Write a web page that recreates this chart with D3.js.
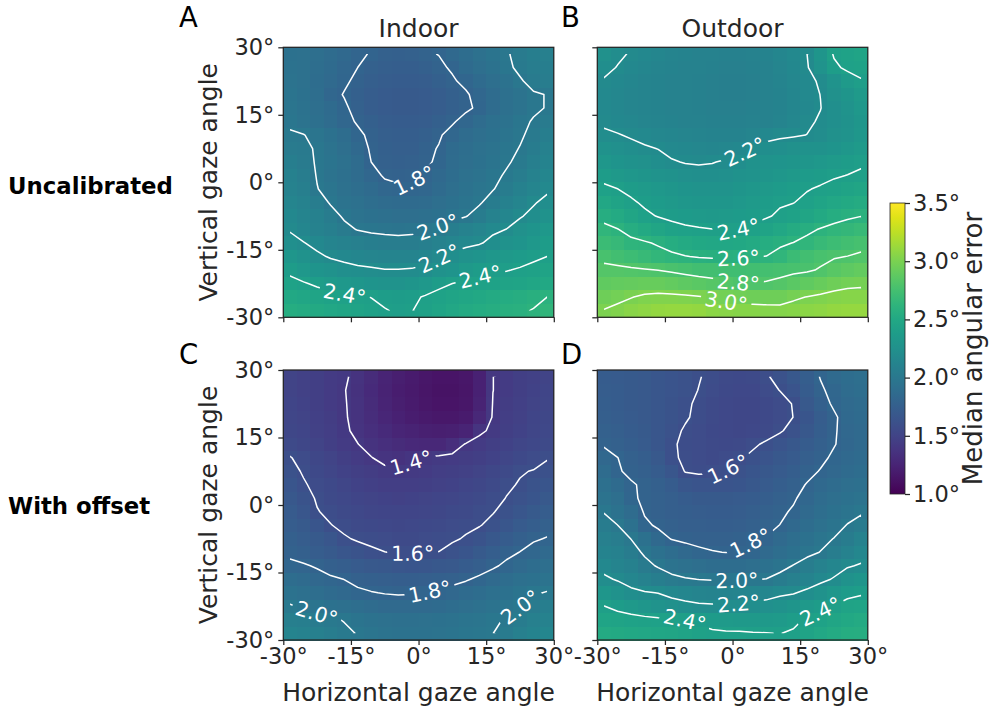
<!DOCTYPE html>
<html>
<head>
<meta charset="utf-8">
<script src="https://cdn.jsdelivr.net/npm/d3@7"></script>
<style>
  body { margin: 0; background: #fff; }
  text { font-family: "DejaVu Sans", sans-serif; }
</style>
</head>
<body>
<svg id="fig" width="992" height="707"></svg>
<script>
// cell centres of the 20 x 20 gaze grid (degrees)
const hAngles = [-28.5,-25.5,-22.5,-19.5,-16.5,-13.5,-10.5,-7.5,-4.5,-1.5,1.5,4.5,7.5,10.5,13.5,16.5,19.5,22.5,25.5,28.5];
const vAngles = [28.5,25.5,22.5,19.5,16.5,13.5,10.5,7.5,4.5,1.5,-1.5,-4.5,-7.5,-10.5,-13.5,-16.5,-19.5,-22.5,-25.5,-28.5];
const tickAngles = [-30, -15, 0, 15, 30];
const cbarTicks = [1.0, 1.5, 2.0, 2.5, 3.0, 3.5];

// median angular error per cell, rows from top (+30) to bottom (-30)
const indoorUncal = [
  [1.93,1.92,1.90,1.87,1.84,1.81,1.796,1.77,1.76,1.77,1.79,1.802,1.84,1.88,1.92,1.96,1.99,2.03,2.06,2.08],
  [1.94,1.92,1.89,1.86,1.83,1.80,1.77,1.75,1.74,1.74,1.76,1.785,1.81,1.86,1.90,1.94,1.98,2.02,2.05,2.06],
  [1.95,1.92,1.88,1.85,1.815,1.78,1.75,1.73,1.72,1.72,1.73,1.76,1.79,1.82,1.86,1.90,1.94,1.99,2.03,2.05],
  [1.96,1.93,1.89,1.83,1.795,1.76,1.73,1.71,1.70,1.70,1.71,1.73,1.76,1.79,1.83,1.87,1.91,1.95,1.99,2.003],
  [1.97,1.94,1.90,1.86,1.815,1.77,1.73,1.71,1.70,1.70,1.71,1.73,1.76,1.785,1.815,1.87,1.91,1.95,1.99,2.003],
  [1.985,1.95,1.91,1.87,1.83,1.79,1.76,1.73,1.72,1.72,1.73,1.76,1.79,1.83,1.87,1.91,1.94,1.985,2.005,2.03],
  [2.01,2.003,1.975,1.93,1.88,1.82,1.78,1.75,1.74,1.74,1.76,1.79,1.83,1.87,1.90,1.93,1.96,1.99,2.02,2.06],
  [2.035,2.02,1.99,1.95,1.90,1.84,1.79,1.76,1.75,1.75,1.78,1.805,1.86,1.89,1.92,1.95,1.98,2.003,2.04,2.09],
  [2.06,2.035,1.99,1.96,1.92,1.87,1.80,1.77,1.76,1.765,1.785,1.815,1.87,1.90,1.93,1.96,1.99,2.02,2.07,2.12],
  [2.09,2.05,1.995,1.95,1.91,1.87,1.83,1.79,1.78,1.785,1.81,1.84,1.88,1.92,1.95,1.98,2.01,2.05,2.10,2.15],
  [2.11,2.07,2.003,1.97,1.92,1.89,1.86,1.83,1.815,1.815,1.83,1.86,1.90,1.94,1.97,1.995,2.04,2.09,2.14,2.18],
  [2.14,2.10,2.05,1.99,1.95,1.92,1.89,1.87,1.86,1.86,1.87,1.90,1.93,1.96,1.99,2.04,2.09,2.14,2.19,2.23],
  [2.165,2.13,2.09,2.04,1.985,1.95,1.93,1.91,1.90,1.90,1.91,1.93,1.965,1.995,2.04,2.10,2.15,2.19,2.23,2.27],
  [2.19,2.15,2.11,2.07,2.03,1.995,1.98,1.97,1.965,1.97,1.99,2.02,2.06,2.10,2.14,2.18,2.202,2.25,2.29,2.33],
  [2.24,2.205,2.17,2.13,2.10,2.08,2.06,2.05,2.045,2.05,2.07,2.10,2.14,2.17,2.19,2.23,2.26,2.29,2.33,2.37],
  [2.31,2.26,2.22,2.19,2.17,2.15,2.14,2.13,2.125,2.13,2.15,2.19,2.23,2.26,2.29,2.32,2.34,2.36,2.38,2.40],
  [2.37,2.33,2.29,2.26,2.24,2.225,2.215,2.205,2.205,2.21,2.23,2.26,2.29,2.34,2.37,2.385,2.395,2.41,2.43,2.45],
  [2.44,2.41,2.38,2.35,2.33,2.31,2.29,2.28,2.28,2.30,2.33,2.37,2.40,2.42,2.43,2.44,2.45,2.46,2.48,2.50],
  [2.50,2.48,2.46,2.44,2.42,2.41,2.398,2.38,2.37,2.38,2.41,2.44,2.46,2.48,2.50,2.52,2.54,2.56,2.58,2.60],
  [2.55,2.53,2.51,2.49,2.47,2.45,2.43,2.405,2.39,2.397,2.43,2.46,2.49,2.52,2.54,2.56,2.58,2.59,2.604,2.64]
];
const outdoorUncal = [
  [2.25,2.22,2.19,2.17,2.15,2.13,2.12,2.11,2.10,2.09,2.09,2.10,2.12,2.15,2.18,2.199,2.30,2.41,2.44,2.46],
  [2.23,2.195,2.17,2.15,2.13,2.12,2.11,2.10,2.09,2.08,2.08,2.09,2.11,2.14,2.17,2.19,2.28,2.38,2.42,2.44],
  [2.19,2.17,2.15,2.13,2.12,2.11,2.10,2.09,2.08,2.07,2.07,2.08,2.10,2.13,2.16,2.18,2.21,2.28,2.35,2.39],
  [2.18,2.16,2.14,2.125,2.115,2.105,2.095,2.085,2.075,2.07,2.07,2.08,2.10,2.12,2.15,2.175,2.201,2.25,2.30,2.35],
  [2.175,2.16,2.14,2.125,2.115,2.105,2.095,2.085,2.08,2.075,2.075,2.085,2.10,2.12,2.145,2.17,2.198,2.24,2.28,2.33],
  [2.185,2.17,2.155,2.14,2.13,2.12,2.11,2.10,2.09,2.085,2.085,2.095,2.11,2.13,2.155,2.185,2.21,2.24,2.27,2.31],
  [2.215,2.205,2.19,2.175,2.16,2.15,2.14,2.13,2.12,2.115,2.12,2.14,2.17,2.185,2.192,2.201,2.22,2.25,2.28,2.32],
  [2.27,2.245,2.225,2.21,2.198,2.175,2.165,2.155,2.15,2.155,2.17,2.21,2.23,2.24,2.25,2.26,2.27,2.29,2.32,2.35],
  [2.32,2.295,2.27,2.25,2.23,2.208,2.195,2.19,2.196,2.21,2.23,2.26,2.28,2.29,2.30,2.31,2.33,2.35,2.37,2.39],
  [2.37,2.345,2.32,2.30,2.28,2.26,2.245,2.235,2.235,2.245,2.26,2.28,2.30,2.32,2.34,2.36,2.375,2.39,2.402,2.41],
  [2.42,2.401,2.375,2.35,2.33,2.31,2.295,2.285,2.28,2.285,2.30,2.32,2.34,2.36,2.38,2.395,2.41,2.43,2.45,2.47],
  [2.49,2.455,2.415,2.385,2.36,2.34,2.325,2.315,2.31,2.315,2.33,2.35,2.37,2.39,2.398,2.42,2.46,2.49,2.51,2.53],
  [2.56,2.52,2.47,2.42,2.395,2.375,2.36,2.35,2.345,2.35,2.36,2.375,2.39,2.415,2.44,2.47,2.51,2.55,2.58,2.598],
  [2.635,2.605,2.56,2.51,2.47,2.44,2.42,2.41,2.402,2.398,2.401,2.42,2.45,2.49,2.53,2.57,2.61,2.64,2.66,2.68],
  [2.70,2.67,2.63,2.615,2.585,2.55,2.52,2.50,2.49,2.49,2.50,2.52,2.55,2.58,2.603,2.64,2.68,2.71,2.74,2.76],
  [2.77,2.74,2.71,2.68,2.65,2.625,2.605,2.59,2.58,2.58,2.585,2.595,2.602,2.64,2.70,2.74,2.77,2.79,2.802,2.82],
  [2.83,2.83,2.82,2.81,2.798,2.78,2.76,2.745,2.74,2.735,2.735,2.74,2.75,2.76,2.775,2.785,2.81,2.85,2.88,2.90],
  [2.89,2.90,2.91,2.92,2.92,2.90,2.88,2.86,2.84,2.82,2.805,2.802,2.81,2.83,2.86,2.89,2.92,2.95,2.97,2.98],
  [2.95,2.97,2.995,3.02,3.03,3.03,3.02,3.008,2.99,2.97,2.955,2.95,2.945,2.95,2.98,3.003,3.02,3.04,3.05,3.05],
  [3.005,3.03,3.06,3.08,3.09,3.10,3.10,3.09,3.07,3.06,3.05,3.045,3.04,3.035,3.05,3.07,3.08,3.09,3.10,3.10]
];
const indoorOffset = [
  [1.50,1.48,1.46,1.43,1.415,1.37,1.31,1.25,1.21,1.18,1.15,1.13,1.13,1.15,1.23,1.399,1.43,1.46,1.48,1.50],
  [1.50,1.48,1.46,1.43,1.405,1.36,1.30,1.24,1.20,1.17,1.14,1.12,1.12,1.14,1.23,1.399,1.43,1.46,1.49,1.51],
  [1.51,1.49,1.46,1.43,1.408,1.365,1.31,1.25,1.21,1.18,1.15,1.13,1.13,1.15,1.24,1.405,1.44,1.47,1.50,1.52],
  [1.52,1.50,1.47,1.44,1.41,1.37,1.32,1.27,1.23,1.20,1.175,1.16,1.16,1.18,1.28,1.41,1.45,1.48,1.51,1.53],
  [1.53,1.51,1.48,1.45,1.415,1.38,1.34,1.30,1.26,1.235,1.22,1.21,1.22,1.25,1.38,1.42,1.46,1.49,1.52,1.54],
  [1.56,1.53,1.50,1.465,1.43,1.402,1.37,1.34,1.31,1.29,1.28,1.28,1.33,1.41,1.435,1.46,1.49,1.52,1.545,1.565],
  [1.605,1.57,1.535,1.50,1.46,1.43,1.403,1.375,1.36,1.39,1.41,1.42,1.43,1.445,1.465,1.49,1.52,1.55,1.575,1.595],
  [1.63,1.59,1.555,1.52,1.49,1.46,1.44,1.42,1.415,1.42,1.435,1.45,1.465,1.48,1.50,1.53,1.56,1.595,1.603,1.62],
  [1.655,1.61,1.575,1.55,1.52,1.49,1.47,1.455,1.45,1.455,1.465,1.48,1.495,1.51,1.53,1.56,1.59,1.605,1.635,1.66],
  [1.68,1.64,1.59,1.565,1.54,1.515,1.50,1.49,1.485,1.49,1.50,1.51,1.525,1.54,1.56,1.58,1.602,1.63,1.66,1.69],
  [1.705,1.67,1.605,1.58,1.56,1.54,1.525,1.515,1.51,1.515,1.525,1.535,1.55,1.565,1.58,1.595,1.63,1.67,1.70,1.73],
  [1.73,1.70,1.66,1.603,1.58,1.565,1.55,1.54,1.535,1.54,1.55,1.56,1.575,1.585,1.595,1.625,1.67,1.71,1.74,1.77],
  [1.755,1.73,1.70,1.665,1.61,1.59,1.58,1.57,1.565,1.565,1.57,1.58,1.59,1.607,1.64,1.68,1.72,1.76,1.79,1.805],
  [1.78,1.755,1.73,1.70,1.67,1.64,1.615,1.601,1.595,1.595,1.597,1.601,1.625,1.66,1.70,1.74,1.775,1.802,1.83,1.855],
  [1.82,1.81,1.79,1.76,1.735,1.71,1.69,1.675,1.665,1.66,1.665,1.675,1.69,1.72,1.75,1.785,1.82,1.85,1.88,1.905],
  [1.88,1.86,1.835,1.815,1.799,1.77,1.755,1.745,1.74,1.74,1.745,1.755,1.77,1.79,1.82,1.85,1.88,1.91,1.935,1.955],
  [1.94,1.915,1.89,1.865,1.84,1.82,1.805,1.795,1.79,1.793,1.801,1.815,1.835,1.86,1.885,1.91,1.935,1.96,1.99,2.005],
  [2.01,1.985,1.96,1.935,1.91,1.89,1.87,1.855,1.85,1.85,1.855,1.865,1.88,1.90,1.925,1.95,1.975,1.997,2.03,2.06],
  [2.07,2.055,2.035,2.015,1.995,1.965,1.94,1.925,1.915,1.915,1.92,1.93,1.945,1.96,1.975,1.99,2.005,2.04,2.08,2.10],
  [2.13,2.11,2.08,2.05,2.02,1.995,1.97,1.955,1.945,1.94,1.945,1.955,1.965,1.98,1.99,1.999,2.03,2.08,2.12,2.15]
];
const outdoorOffset = [
  [1.72,1.71,1.70,1.69,1.67,1.65,1.63,1.605,1.58,1.56,1.55,1.56,1.59,1.63,1.68,1.74,1.805,1.85,1.88,1.90],
  [1.73,1.72,1.70,1.69,1.67,1.65,1.625,1.598,1.57,1.55,1.54,1.545,1.57,1.602,1.65,1.72,1.785,1.83,1.87,1.89],
  [1.74,1.72,1.70,1.685,1.665,1.64,1.615,1.585,1.56,1.54,1.53,1.535,1.55,1.57,1.605,1.69,1.76,1.815,1.85,1.87],
  [1.75,1.73,1.71,1.69,1.665,1.64,1.61,1.58,1.56,1.54,1.53,1.535,1.55,1.57,1.601,1.66,1.73,1.785,1.84,1.86],
  [1.765,1.745,1.72,1.695,1.665,1.625,1.59,1.57,1.555,1.54,1.535,1.54,1.56,1.59,1.63,1.68,1.74,1.79,1.835,1.855],
  [1.79,1.77,1.74,1.71,1.67,1.61,1.585,1.57,1.56,1.55,1.56,1.585,1.615,1.645,1.68,1.72,1.76,1.795,1.83,1.85],
  [1.835,1.801,1.77,1.735,1.69,1.61,1.59,1.57,1.565,1.57,1.59,1.62,1.65,1.68,1.71,1.745,1.78,1.815,1.84,1.86],
  [1.875,1.81,1.78,1.76,1.72,1.67,1.595,1.585,1.59,1.602,1.625,1.655,1.68,1.71,1.74,1.775,1.805,1.835,1.86,1.88],
  [1.915,1.86,1.81,1.785,1.76,1.72,1.67,1.65,1.645,1.65,1.66,1.68,1.705,1.735,1.77,1.805,1.84,1.87,1.90,1.915],
  [1.955,1.90,1.815,1.785,1.77,1.745,1.72,1.70,1.695,1.695,1.705,1.72,1.74,1.765,1.79,1.83,1.87,1.90,1.93,1.95],
  [1.995,1.945,1.875,1.79,1.77,1.75,1.735,1.725,1.72,1.72,1.73,1.745,1.765,1.785,1.81,1.85,1.89,1.93,1.96,1.99],
  [2.04,2.001,1.93,1.82,1.785,1.765,1.75,1.745,1.74,1.74,1.75,1.765,1.785,1.801,1.84,1.88,1.92,1.96,2.005,2.03],
  [2.08,2.05,1.998,1.93,1.84,1.795,1.78,1.77,1.765,1.765,1.775,1.795,1.803,1.85,1.89,1.93,1.97,2.003,2.04,2.10],
  [2.12,2.09,2.04,1.985,1.93,1.88,1.845,1.82,1.805,1.798,1.805,1.82,1.85,1.89,1.93,1.97,2.003,2.05,2.10,2.155],
  [2.165,2.13,2.09,2.03,1.99,1.95,1.92,1.90,1.885,1.88,1.885,1.90,1.93,1.96,2.005,2.05,2.10,2.15,2.19,2.21],
  [2.22,2.19,2.15,2.10,2.06,2.03,2.01,1.998,1.99,1.985,1.99,1.995,2.003,2.04,2.08,2.12,2.17,2.21,2.26,2.30],
  [2.31,2.27,2.23,2.21,2.197,2.165,2.145,2.13,2.12,2.12,2.125,2.135,2.15,2.175,2.19,2.23,2.27,2.32,2.36,2.385],
  [2.402,2.37,2.34,2.31,2.28,2.255,2.235,2.22,2.215,2.215,2.22,2.23,2.245,2.27,2.30,2.34,2.375,2.405,2.45,2.46],
  [2.46,2.45,2.44,2.43,2.42,2.41,2.398,2.38,2.36,2.35,2.345,2.34,2.34,2.35,2.38,2.41,2.44,2.47,2.50,2.52],
  [2.52,2.51,2.50,2.49,2.48,2.47,2.45,2.43,2.415,2.41,2.41,2.405,2.402,2.398,2.41,2.45,2.49,2.52,2.55,2.56]
];

// contour levels drawn in each panel
const levelsA = [1.8, 2.0, 2.2, 2.4, 2.6];
const levelsB = [2.2, 2.4, 2.6, 2.8, 3.0];
const levelsC = [1.4, 1.6, 1.8, 2.0];
const levelsD = [1.6, 1.8, 2.0, 2.2, 2.4];

// where the inline contour labels sit: [level, horizontal deg, vertical deg]
const spotsA = [[1.8,-1.0,0.4],[2.0,4.35,-10.2],[2.2,4.35,-16.5],[2.4,-16.3,-23.9],[2.4,13.6,-20.6]];
const spotsB = [[2.2,2.6,7.0],[2.4,1.3,-10.6],[2.6,1.3,-17.6],[2.8,1.3,-22.1],[3.0,-1.4,-26.2]];
const spotsC = [[1.4,-1.9,10.0],[1.6,-1.3,-10.9],[1.8,2.5,-19.3],[2.0,-22.6,-24.1],[2.0,22.8,-23.0]];
const spotsD = [[1.6,-0.9,7.8],[1.8,4.3,-8.9],[2.0,0.96,-17.0],[2.2,1.3,-21.5],[2.4,-10.5,-25.2],[2.4,19.5,-23.7]];

const W = 270.5, H = 270;
const ink = "#262626";
const panels = [
  {grid: indoorUncal, levels: levelsA, spots: spotsA, left: 283.3, top: 47.3, letter: "A", lx: 179, ly: 27.3, title: "Indoor", xLab: false, yLab: true},
  {grid: outdoorUncal, levels: levelsB, spots: spotsB, left: 597.3, top: 47.3, letter: "B", lx: 561, ly: 27.3, title: "Outdoor", xLab: false, yLab: false},
  {grid: indoorOffset, levels: levelsC, spots: spotsC, left: 283.3, top: 370, letter: "C", lx: 179, ly: 364, title: null, xLab: true, yLab: true},
  {grid: outdoorOffset, levels: levelsD, spots: spotsD, left: 597.3, top: 370, letter: "D", lx: 561, ly: 364, title: null, xLab: true, yLab: false}
];

const svg = d3.select("#fig");
const defs = svg.append("defs");
const color = d3.scaleSequential(d3.interpolateViridis).domain([1.0, 3.5]);
const step = hAngles[1] - hAngles[0];
const nx = hAngles.length, ny = vAngles.length;

// point on the contour closest to (px,py), with the local direction of the line
function placeLabel(rings, px, py, half) {
  let best = null;
  rings.forEach(ring => {
    const cum = [0];
    for (let k = 1; k < ring.length; k++) {
      cum.push(cum[k - 1] + Math.hypot(ring[k][0] - ring[k - 1][0], ring[k][1] - ring[k - 1][1]));
    }
    for (let k = 1; k < ring.length; k++) {
      const [ax, ay] = ring[k - 1], [bx, by] = ring[k];
      const dx = bx - ax, dy = by - ay, L2 = dx * dx + dy * dy;
      let t = L2 ? ((px - ax) * dx + (py - ay) * dy) / L2 : 0;
      t = Math.max(0, Math.min(1, t));
      const qx = ax + t * dx, qy = ay + t * dy;
      const d = Math.hypot(px - qx, py - qy);
      if (!best || d < best.d) best = {d, ring, cum, s: cum[k - 1] + t * Math.sqrt(L2), qx, qy};
    }
  });
  const total = best.cum[best.cum.length - 1];
  const at = s => {
    s = ((s % total) + total) % total;
    const c = best.cum;
    let k = 1;
    while (k < c.length - 1 && c[k] < s) k++;
    const f = c[k] > c[k - 1] ? (s - c[k - 1]) / (c[k] - c[k - 1]) : 0;
    const a = best.ring[k - 1], b = best.ring[k];
    return [a[0] + f * (b[0] - a[0]), a[1] + f * (b[1] - a[1])];
  };
  const p1 = at(best.s - half), p2 = at(best.s + half);
  let ang = Math.atan2(p2[1] - p1[1], p2[0] - p1[0]) * 180 / Math.PI;
  if (ang > 90) ang -= 180;
  if (ang < -90) ang += 180;
  return {x: best.qx, y: best.qy, ang};
}

panels.forEach((p, k) => {
  const x = d3.scaleLinear().domain([-30, 30]).range([p.left, p.left + W]);
  const y = d3.scaleLinear().domain([30, -30]).range([p.top, p.top + H]);

  // heat map cells
  const cells = [];
  p.grid.forEach((row, j) => row.forEach((v, i) => cells.push({h: hAngles[i], v: vAngles[j], val: v})));
  svg.append("g").attr("shape-rendering", "crispEdges")
    .selectAll("rect").data(cells).join("rect")
    .attr("x", d => x(d.h - step / 2))
    .attr("y", d => y(d.v + step / 2))
    .attr("width", d => x(d.h + step / 2) - x(d.h - step / 2) + 0.5)
    .attr("height", d => y(d.v - step / 2) - y(d.v + step / 2) + 0.5)
    .attr("fill", d => color(d.val));

  // contours on the grid of cell centres
  const contours = d3.contours().size([nx, ny]).thresholds(p.levels)(p.grid.flat());
  const gx = d3.scaleLinear().domain([0.5, nx - 0.5]).range([x(hAngles[0]), x(hAngles[nx - 1])]);
  const gy = d3.scaleLinear().domain([0.5, ny - 0.5]).range([y(vAngles[0]), y(vAngles[ny - 1])]);
  const path = d3.geoPath(d3.geoTransform({point(a, b) { this.stream.point(gx(a), gy(b)); }}));

  defs.append("clipPath").attr("id", "clip" + k).append("rect")
    .attr("x", gx(0.5)).attr("y", gy(0.5))
    .attr("width", gx(nx - 0.5) - gx(0.5)).attr("height", gy(ny - 0.5) - gy(0.5));
  const mask = defs.append("mask").attr("id", "mask" + k).attr("maskUnits", "userSpaceOnUse")
    .attr("x", p.left - 5).attr("y", p.top - 5).attr("width", W + 10).attr("height", H + 10);
  mask.append("rect").attr("x", p.left - 5).attr("y", p.top - 5).attr("width", W + 10).attr("height", H + 10).attr("fill", "white");

  svg.append("g").attr("clip-path", `url(#clip${k})`)
    .append("g").attr("mask", `url(#mask${k})`)
    .selectAll("path").data(contours).join("path")
    .attr("d", path)
    .attr("fill", "none")
    .attr("stroke", "white")
    .attr("stroke-width", 1.5)
    .attr("stroke-linejoin", "round");

  // inline labels
  const labelG = svg.append("g").attr("fill", "white").attr("font-size", 20.5);
  p.spots.forEach(([lev, sx, sy]) => {
    const geo = contours.find(c => Math.abs(c.value - lev) < 1e-9);
    const rings = geo.coordinates.flat().map(r => r.map(([a, b]) => [gx(a), gy(b)]));
    const pos = placeLabel(rings, x(sx), y(sy), 19);
    const tr = `translate(${pos.x},${pos.y}) rotate(${pos.ang})`;
    const t = labelG.append("text").attr("transform", tr)
      .attr("text-anchor", "middle").attr("dy", "0.36em")
      .text(lev.toFixed(1) + "°");
    const w = t.node().getComputedTextLength();
    mask.append("rect").attr("transform", tr)
      .attr("x", -w / 2 - 4).attr("y", -8).attr("width", w + 8).attr("height", 16)
      .attr("fill", "black");
  });

  // frame and axes
  svg.append("rect").attr("x", p.left).attr("y", p.top).attr("width", W).attr("height", H)
    .attr("fill", "none").attr("stroke", ink).attr("stroke-width", 1.25);

  const ax = svg.append("g").attr("transform", `translate(0,${p.top + H})`)
    .call(d3.axisBottom(x).tickValues(tickAngles).tickSize(5).tickPadding(3)
      .tickFormat(p.xLab ? d => d + "°" : ""));
  const ay = svg.append("g").attr("transform", `translate(${p.left},0)`)
    .call(d3.axisLeft(y).tickValues(tickAngles).tickSize(5).tickPadding(4)
      .tickFormat(p.yLab ? d => d + "°" : ""));
  [ax, ay].forEach(a => {
    a.select(".domain").remove();
    a.attr("font-size", 22.5).attr("font-family", "DejaVu Sans");
    a.selectAll("line").attr("stroke", ink).attr("stroke-width", 1.25);
    a.selectAll("text").attr("fill", ink);
  });

  if (p.xLab) {
    svg.append("text").attr("x", p.left + W / 2).attr("y", 701)
      .attr("text-anchor", "middle").attr("font-size", 25).attr("fill", ink)
      .text("Horizontal gaze angle");
  }
  if (p.yLab) {
    svg.append("text").attr("transform", `translate(217,${p.top + H / 2}) rotate(-90)`)
      .attr("text-anchor", "middle").attr("font-size", 25).attr("fill", ink)
      .text("Vertical gaze angle");
  }
  if (p.title) {
    svg.append("text").attr("x", p.left + W / 2).attr("y", 36.7)
      .attr("text-anchor", "middle").attr("font-size", 25).attr("fill", ink)
      .text(p.title);
  }
  svg.append("text").attr("x", p.lx).attr("y", p.ly)
    .attr("font-size", 27.5).attr("fill", "black").text(p.letter);
});

// row labels
svg.append("text").attr("x", 8).attr("y", 194).attr("font-size", 22.8)
  .attr("font-weight", "bold").attr("fill", "black").text("Uncalibrated");
svg.append("text").attr("x", 8).attr("y", 514).attr("font-size", 22.8)
  .attr("font-weight", "bold").attr("fill", "black").text("With offset");

// colour bar
const cb = {x: 890, y: 203, w: 15, h: 291};
const grad = defs.append("linearGradient").attr("id", "cbar")
  .attr("x1", 0).attr("y1", 1).attr("x2", 0).attr("y2", 0);
d3.range(0, 1.0001, 0.05).forEach(t => {
  grad.append("stop").attr("offset", t).attr("stop-color", d3.interpolateViridis(t));
});
svg.append("rect").attr("x", cb.x).attr("y", cb.y).attr("width", cb.w).attr("height", cb.h)
  .attr("fill", "url(#cbar)").attr("stroke", ink).attr("stroke-width", 0.8);
const cy = d3.scaleLinear().domain([1.0, 3.5]).range([cb.y + cb.h, cb.y]);
const cax = svg.append("g").attr("transform", `translate(${cb.x + cb.w},0)`)
  .call(d3.axisRight(cy).tickValues(cbarTicks).tickSize(5).tickPadding(3)
    .tickFormat(d => d3.format(".1f")(d) + "°"));
cax.select(".domain").remove();
cax.attr("font-size", 22.5).attr("font-family", "DejaVu Sans");
cax.selectAll("line").attr("stroke", ink).attr("stroke-width", 1.25);
cax.selectAll("text").attr("fill", ink);
svg.append("text").attr("transform", `translate(982,${cb.y + cb.h / 2}) rotate(-90)`)
  .attr("text-anchor", "middle").attr("font-size", 26).attr("fill", ink)
  .text("Median angular error");
</script>
</body>
</html>
